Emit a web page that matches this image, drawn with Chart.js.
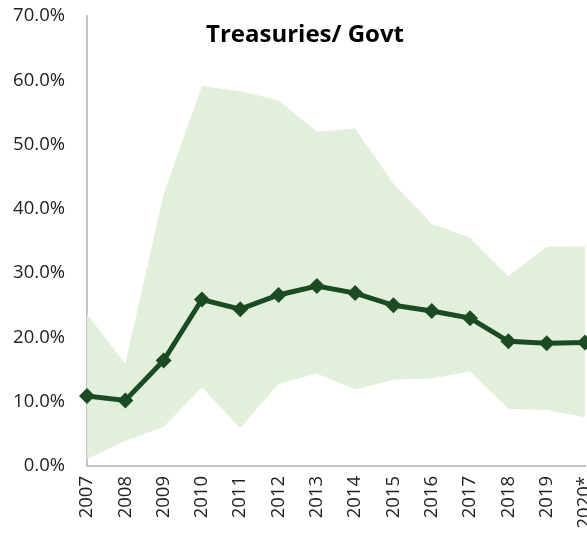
<!DOCTYPE html>
<html>
<head>
<meta charset="utf-8">
<script src="https://cdn.jsdelivr.net/npm/chart.js@4/dist/chart.umd.min.js"></script>
<style>
  html, body { margin: 0; padding: 0; background: #fff; overflow: hidden; }
  #wrap { position: relative; width: 587px; height: 534px; }
  #title {
    position: absolute; left: 155px; top: 16px; width: 300px; text-align: center;
    font: bold 24px "Open Sans", sans-serif; color: #000; white-space: nowrap;
  }
</style>
</head>
<body>
<div id="wrap">
  <canvas id="chart"></canvas>
  <div id="title">Treasuries/ Govt</div>
</div>
<script>
// data (percent)
const years = ['2007', '2008', '2009', '2010', '2011', '2012', '2013', '2014', '2015', '2016', '2017', '2018', '2019', '2020*'];
const median = [10.9, 10.2, 16.4, 25.9, 24.4, 26.6, 28.0, 26.9, 25.0, 24.1, 23.0, 19.4, 19.1, 19.2];
const upper = [23.6, 15.9, 42.3, 59.1, 58.3, 56.9, 52.0, 52.5, 43.9, 37.7, 35.5, 29.5, 34.1, 34.2];
const lower = [1.1, 3.9, 6.1, 12.2, 5.9, 12.8, 14.4, 11.9, 13.4, 13.6, 14.7, 8.9, 8.7, 7.6];
const yTicks = [0, 10, 20, 30, 40, 50, 60, 70];

const lineColor = '#1b4b22';
const bandColor = '#e2efda';
const axisColor = '#c4c4c4';
const tickFont = { family: '"Open Sans", sans-serif', size: 18.5 };

const ctx = document.getElementById('chart').getContext('2d');
const chart = new Chart(ctx, {
    type: 'line',
    data: {
        labels: years,
        datasets: [
            {
                label: 'Median',
                data: median,
                borderColor: lineColor,
                backgroundColor: lineColor,
                borderWidth: 5,
                pointStyle: 'rectRot',
                pointRadius: 8,
                pointBorderWidth: 0,
                fill: false,
                clip: false,
                order: 0
            },
            {
                label: 'Upper',
                data: upper,
                borderWidth: 0,
                pointRadius: 0,
                backgroundColor: bandColor,
                fill: '+1',
                order: 1
            },
            {
                label: 'Lower',
                data: lower,
                borderWidth: 0,
                pointRadius: 0,
                backgroundColor: bandColor,
                fill: false,
                order: 2
            }
        ]
    },
    options: {
        responsive: true,
        maintainAspectRatio: false,
        animation: false,
        layout: { autoPadding: false, padding: { top: 16, right: 2, bottom: 0, left: 0 } },
        plugins: {
            legend: { display: false },
            tooltip: { enabled: false }
        },
        elements: { line: { tension: 0 } },
        scales: {
            x: {
                offset: false,
                grid: { display: false, drawTicks: false },
                border: { color: axisColor, width: 2 },
                ticks: {
                    minRotation: 90,
                    maxRotation: 90,
                    autoSkip: false,
                    padding: 10,
                    color: '#222',
                    font: tickFont
                },
                afterFit: function(scale) {
                    scale.height = 68;
                    scale.paddingLeft = 0;
                    scale.paddingRight = 0;
                    scale.paddingTop = 0;
                    scale.paddingBottom = 0;
                }
            },
            y: {
                min: 0,
                max: 70,
                grid: { display: false, drawTicks: false },
                border: { color: axisColor, width: 2 },
                afterBuildTicks: function(scale) {
                    scale.ticks = yTicks.map(v => ({ value: v }));
                },
                ticks: {
                    padding: 22,
                    color: '#222',
                    font: tickFont,
                    callback: v => v.toFixed(1) + '%'
                },
                afterFit: function(scale) {
                    scale.width = 87;
                    scale.paddingTop = 0;
                    scale.paddingBottom = 0;
                }
            }
        }
    }
});
</script>
</body>
</html>
